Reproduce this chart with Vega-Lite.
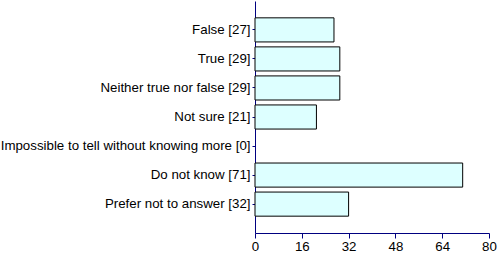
{
  "$schema": "https://vega.github.io/schema/vega-lite/v6.json",
  "width": 234,
  "height": 232,
  "autosize": "none",
  "padding": {"left": 255, "top": 1, "right": 11, "bottom": 21},
  "background": "white",
  "config": {"view": {"stroke": null}},
  "data": {"values": [
    {"label": "False [27]", "value": 27},
    {"label": "True [29]", "value": 29},
    {"label": "Neither true nor false [29]", "value": 29},
    {"label": "Not sure [21]", "value": 21},
    {"label": "Impossible to tell without knowing more [0]", "value": 0},
    {"label": "Do not know [71]", "value": 71},
    {"label": "Prefer not to answer [32]", "value": 32}
  ]},
  "mark": {"type": "bar", "fill": "#ddffff", "stroke": "black", "strokeWidth": 1},
  "encoding": {
    "y": {"field": "label", "type": "nominal", "sort": null,
      "scale": {"paddingInner": 0.17, "paddingOuter": 0.58},
      "axis": {"title": null, "domainColor": "#000080", "tickColor": "#000080", "tickSize": 3,
        "labelFont": "Liberation Sans", "labelFontSize": 13.3, "labelColor": "black", "labelPadding": 2, "labelLimit": 300}},
    "x": {"field": "value", "type": "quantitative",
      "scale": {"domain": [0, 80], "nice": false},
      "axis": {"title": null, "values": [0, 16, 32, 48, 64, 80], "grid": false, "domainColor": "#000080", "tickColor": "#000080", "tickSize": 5,
        "labelFont": "Liberation Sans", "labelFontSize": 13.3, "labelColor": "black", "labelPadding": 1, "labelFlush": false}},
    "strokeOpacity": {"condition": {"test": "datum.value == 0", "value": 0}, "value": 1}
  }
}
